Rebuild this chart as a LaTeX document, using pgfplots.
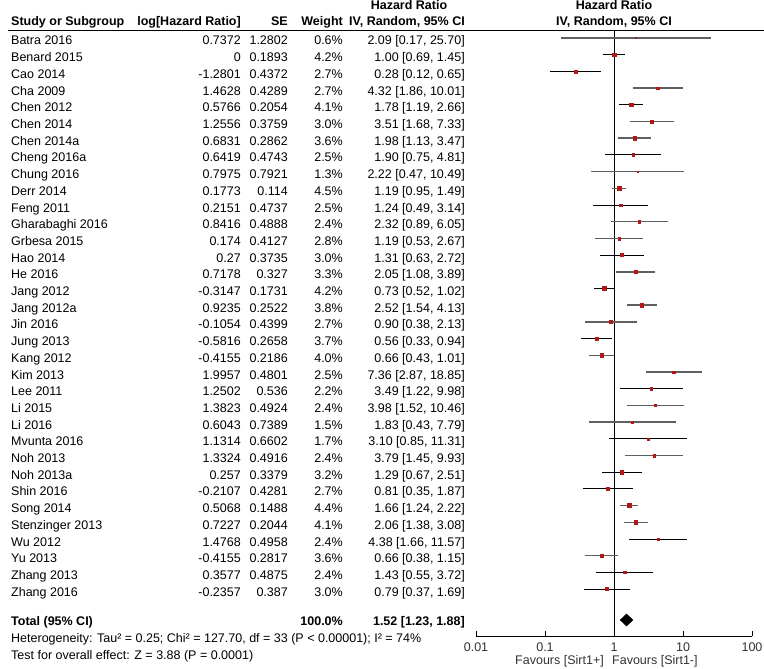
\documentclass[border=0pt]{standalone}
\usepackage{fontspec}
\setmainfont{Liberation Sans}
\usepackage{pgfplots}
\usepackage{pgfplotstable}
\pgfplotsset{compat=1.18}
\definecolor{sqred}{RGB}{178,24,24}
\definecolor{cigrey}{RGB}{95,95,95}
\definecolor{lbl}{RGB}{50,50,50}

% square markers: row index, hazard ratio, weight (%)
\pgfplotstableread{
i hr w
1 2.09 0.6
2 1.00 4.2
3 0.28 2.7
4 4.32 2.7
5 1.78 4.1
6 3.51 3.0
7 1.98 3.6
8 1.90 2.5
9 2.22 1.3
10 1.19 4.5
11 1.24 2.5
12 2.32 2.4
13 1.19 2.8
14 1.31 3.0
15 2.05 3.3
16 0.73 4.2
17 2.52 3.8
18 0.90 2.7
19 0.56 3.7
20 0.66 4.0
21 7.36 2.5
22 3.49 2.2
23 3.98 2.4
24 1.83 1.5
25 3.10 1.7
26 3.79 2.4
27 1.29 3.2
28 0.81 2.7
29 1.66 4.4
30 2.06 4.1
31 4.38 2.4
32 0.66 3.6
33 1.43 2.4
34 0.79 3.0
}\sq

\newcommand{\RowY}[1]{\pgfmathsetmacro{\yb}{-(38+(#1-1)*16.7+7)}}
\newcommand{\Row}[6]{%
  \RowY{#1}%
  \node[anchor=base west] at (11,\yb) {#2};
  \node[anchor=base east] at (241,\yb) {#3};
  \node[anchor=base east] at (288,\yb) {#4};
  \node[anchor=base east] at (343,\yb) {#5\%};
  \node[anchor=base east] at (465,\yb) {#6};
}

\begin{document}
\begin{tikzpicture}[x=1pt,y=1pt,font=\fontsize{12.5}{15}\selectfont,every node/.style={inner sep=0pt}]
\useasboundingbox (0,0) rectangle (764,-669);

\begin{axis}[
  at={(476pt,-636pt)}, anchor=south west,
  scale only axis, width=276pt, height=605.5pt,
  xmode=log, xmin=0.01, xmax=100,
  ymin=-636, ymax=-30.5,
  axis x line*=bottom, axis y line=none,
  xtick={0.01,0.1,1,10,100},
  xticklabels={0.01,0.1,1,10,100},
  xminorticks=false,
  tick align=inside, major tick length=5pt,
  xtick style={black, line width=0.8pt},
  x axis line style={black, line width=0.8pt},
  tick label style={font=\fontsize{12.5}{15}\selectfont, text=lbl},
  xticklabel style={anchor=base, yshift=-15.5pt},
  clip=false,
  unbounded coords=jump,
]
% line of no effect
\addplot[black, line width=0.8pt] coordinates {(1,-30.5) (1,-636)};
% confidence intervals (black)
\addplot[black, line width=1pt] coordinates {
(0.69,-54.7) (1.45,-54.7) (1,nan)
(0.12,-71.4) (0.65,-71.4) (1,nan)
(1.19,-104.8) (2.66,-104.8) (1,nan)
(0.75,-154.9) (4.81,-154.9) (1,nan)
(0.49,-205.0) (3.14,-205.0) (1,nan)
(0.63,-255.1) (2.72,-255.1) (1,nan)
(0.52,-288.5) (1.02,-288.5) (1,nan)
(0.33,-338.6) (0.94,-338.6) (1,nan)
(1.22,-388.7) (9.98,-388.7) (1,nan)
(0.85,-438.8) (11.31,-438.8) (1,nan)
(0.67,-472.2) (2.51,-472.2) (1,nan)
(0.35,-488.9) (1.87,-488.9) (1,nan)
(1.66,-539.0) (11.57,-539.0) (1,nan)
(0.55,-572.4) (3.72,-572.4) (1,nan)
(0.37,-589.1) (1.69,-589.1)
};
% confidence intervals (grey)
\addplot[cigrey, line width=1.5pt] coordinates {
(0.17,-38.0) (25.70,-38.0) (1,nan)
(1.86,-88.1) (10.01,-88.1) (1,nan)
(1.68,-121.5) (7.33,-121.5) (1,nan)
(1.13,-138.2) (3.47,-138.2) (1,nan)
(0.47,-171.6) (10.49,-171.6) (1,nan)
(0.95,-188.3) (1.49,-188.3) (1,nan)
(0.89,-221.7) (6.05,-221.7) (1,nan)
(0.53,-238.4) (2.67,-238.4) (1,nan)
(1.08,-271.8) (3.89,-271.8) (1,nan)
(1.54,-305.2) (4.13,-305.2) (1,nan)
(0.38,-321.9) (2.13,-321.9) (1,nan)
(0.43,-355.3) (1.01,-355.3) (1,nan)
(2.87,-372.0) (18.85,-372.0) (1,nan)
(1.52,-405.4) (10.46,-405.4) (1,nan)
(0.43,-422.1) (7.79,-422.1) (1,nan)
(1.45,-455.5) (9.93,-455.5) (1,nan)
(1.24,-505.6) (2.22,-505.6) (1,nan)
(1.38,-522.3) (3.08,-522.3) (1,nan)
(0.38,-555.7) (1.15,-555.7)
};
% study squares sized by weight
\addplot[scatter, only marks, mark=square*,
  scatter/use mapped color={draw=sqred, fill=sqred},
  visualization depends on={0.25+0.4*\thisrow{w} \as \ms},
  scatter/@pre marker code/.append style={/tikz/mark size=\ms pt}]
  table[x=hr, y expr={-(38+(\thisrow{i}-1)*16.7)}] {\sq};
% pooled estimate diamond
\addplot[fill=black, draw=black] coordinates {(1.23,-620) (1.52,-614) (1.88,-620) (1.52,-626) (1.23,-620)};
\end{axis}

% header
\draw[black, line width=0.9pt] (8,-30.5) -- (764,-30.5);
\begin{scope}[font=\fontsize{12.5}{15}\selectfont\bfseries]
\node[anchor=base] at (409,-9.5) {Hazard Ratio};
\node[anchor=base] at (614,-9.5) {Hazard Ratio};
\node[anchor=base west] at (11,-26) {Study or Subgroup};
\node[anchor=base east] at (241,-26) {log[Hazard Ratio]};
\node[anchor=base east] at (288,-26) {SE};
\node[anchor=base east] at (343,-26) {Weight};
\node[anchor=base] at (407,-26) {IV, Random, 95\% CI};
\node[anchor=base] at (614,-26) {IV, Random, 95\% CI};
\end{scope}

\Row{1}{Batra 2016}{0.7372}{1.2802}{0.6}{2.09 [0.17, 25.70]}
\Row{2}{Benard 2015}{0}{0.1893}{4.2}{1.00 [0.69, 1.45]}
\Row{3}{Cao 2014}{-1.2801}{0.4372}{2.7}{0.28 [0.12, 0.65]}
\Row{4}{Cha 2009}{1.4628}{0.4289}{2.7}{4.32 [1.86, 10.01]}
\Row{5}{Chen 2012}{0.5766}{0.2054}{4.1}{1.78 [1.19, 2.66]}
\Row{6}{Chen 2014}{1.2556}{0.3759}{3.0}{3.51 [1.68, 7.33]}
\Row{7}{Chen 2014a}{0.6831}{0.2862}{3.6}{1.98 [1.13, 3.47]}
\Row{8}{Cheng 2016a}{0.6419}{0.4743}{2.5}{1.90 [0.75, 4.81]}
\Row{9}{Chung 2016}{0.7975}{0.7921}{1.3}{2.22 [0.47, 10.49]}
\Row{10}{Derr 2014}{0.1773}{0.114}{4.5}{1.19 [0.95, 1.49]}
\Row{11}{Feng 2011}{0.2151}{0.4737}{2.5}{1.24 [0.49, 3.14]}
\Row{12}{Gharabaghi 2016}{0.8416}{0.4888}{2.4}{2.32 [0.89, 6.05]}
\Row{13}{Grbesa 2015}{0.174}{0.4127}{2.8}{1.19 [0.53, 2.67]}
\Row{14}{Hao 2014}{0.27}{0.3735}{3.0}{1.31 [0.63, 2.72]}
\Row{15}{He 2016}{0.7178}{0.327}{3.3}{2.05 [1.08, 3.89]}
\Row{16}{Jang 2012}{-0.3147}{0.1731}{4.2}{0.73 [0.52, 1.02]}
\Row{17}{Jang 2012a}{0.9235}{0.2522}{3.8}{2.52 [1.54, 4.13]}
\Row{18}{Jin 2016}{-0.1054}{0.4399}{2.7}{0.90 [0.38, 2.13]}
\Row{19}{Jung 2013}{-0.5816}{0.2658}{3.7}{0.56 [0.33, 0.94]}
\Row{20}{Kang 2012}{-0.4155}{0.2186}{4.0}{0.66 [0.43, 1.01]}
\Row{21}{Kim 2013}{1.9957}{0.4801}{2.5}{7.36 [2.87, 18.85]}
\Row{22}{Lee 2011}{1.2502}{0.536}{2.2}{3.49 [1.22, 9.98]}
\Row{23}{Li 2015}{1.3823}{0.4924}{2.4}{3.98 [1.52, 10.46]}
\Row{24}{Li 2016}{0.6043}{0.7389}{1.5}{1.83 [0.43, 7.79]}
\Row{25}{Mvunta 2016}{1.1314}{0.6602}{1.7}{3.10 [0.85, 11.31]}
\Row{26}{Noh 2013}{1.3324}{0.4916}{2.4}{3.79 [1.45, 9.93]}
\Row{27}{Noh 2013a}{0.257}{0.3379}{3.2}{1.29 [0.67, 2.51]}
\Row{28}{Shin 2016}{-0.2107}{0.4281}{2.7}{0.81 [0.35, 1.87]}
\Row{29}{Song 2014}{0.5068}{0.1488}{4.4}{1.66 [1.24, 2.22]}
\Row{30}{Stenzinger 2013}{0.7227}{0.2044}{4.1}{2.06 [1.38, 3.08]}
\Row{31}{Wu 2012}{1.4768}{0.4958}{2.4}{4.38 [1.66, 11.57]}
\Row{32}{Yu 2013}{-0.4155}{0.2817}{3.6}{0.66 [0.38, 1.15]}
\Row{33}{Zhang 2013}{0.3577}{0.4875}{2.4}{1.43 [0.55, 3.72]}
\Row{34}{Zhang 2016}{-0.2357}{0.387}{3.0}{0.79 [0.37, 1.69]}

% totals
\begin{scope}[font=\fontsize{12.5}{15}\selectfont\bfseries]
\node[anchor=base west] at (11,-625) {Total (95\% CI)};
\node[anchor=base east] at (343,-625) {100.0\%};
\node[anchor=base east] at (465,-625) {1.52 [1.23, 1.88]};
\end{scope}
\node[anchor=base west] at (11,-642.5) {Heterogeneity: Tau² = 0.25; Chi² = 127.70, df = 33 (P < 0.00001); I² = 74\%};
\node[anchor=base west] at (11,-659) {Test for overall effect: Z = 3.88 (P = 0.0001)};
\node[anchor=base east, text=lbl] at (604,-664.5) {Favours [Sirt1+]};
\node[anchor=base west, text=lbl] at (612,-664.5) {Favours [Sirt1-]};
\end{tikzpicture}
\end{document}
